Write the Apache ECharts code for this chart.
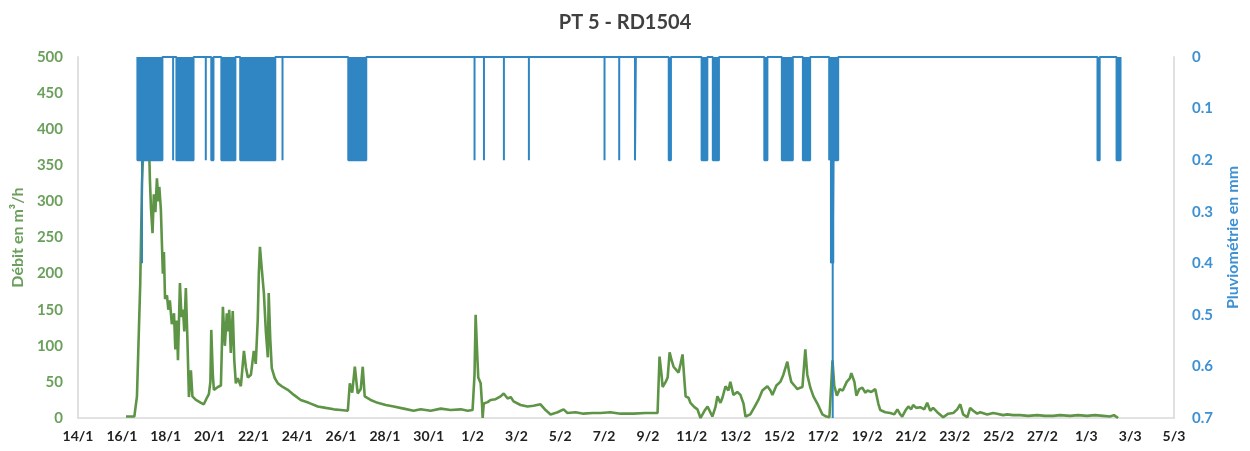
<!DOCTYPE html>
<html>
<head>
<meta charset="utf-8">
<script src="https://cdn.jsdelivr.net/npm/echarts@6/dist/echarts.min.js"></script>
<style>html,body{margin:0;padding:0;background:#fff;}#c{width:1250px;height:451px;}</style>
</head>
<body>
<div id="c"></div>
<script>
// X axis: days since 14/1 (2015)
const tickLabels = ['14/1','16/1','18/1','20/1','22/1','24/1','26/1','28/1','30/1','1/2','3/2','5/2','7/2','9/2','11/2','13/2','15/2','17/2','19/2','21/2','23/2','25/2','27/2','1/3','3/3','5/3'];

// Débit (m3/h): day offset and value
const flowDay = [2.19,2.57,2.66,2.69,2.76,2.84,2.92,3.01,3.14,3.24,3.28,3.33,3.40,3.46,3.53,3.60,3.67,3.71,3.78,3.83,3.87,3.92,3.97,4.06,4.12,4.19,4.28,4.38,4.44,4.51,4.56,4.65,4.72,4.79,4.85,4.92,4.99,5.06,5.15,5.22,5.38,5.61,5.74,5.88,5.97,6.04,6.08,6.15,6.20,6.38,6.52,6.61,6.70,6.79,6.86,6.90,6.97,7.06,7.13,7.20,7.29,7.43,7.57,7.66,7.75,7.89,8.02,8.11,8.20,8.25,8.30,8.36,8.48,8.57,8.66,8.70,8.77,8.84,8.98,9.12,9.34,9.57,9.85,10.16,10.53,10.94,11.30,11.67,11.99,12.31,12.40,12.51,12.63,12.72,12.76,12.90,12.99,13.08,13.35,13.67,14.04,14.40,14.86,15.31,15.63,16.09,16.55,17.00,17.46,17.78,18.00,18.09,18.14,18.21,18.26,18.37,18.43,18.46,18.51,18.69,18.82,19.05,19.28,19.42,19.60,19.74,19.87,20.19,20.51,20.78,21.10,21.33,21.56,21.88,22.15,22.33,22.70,23.06,23.47,23.84,24.29,24.75,25.34,25.89,26.44,26.53,26.62,26.67,26.81,26.90,26.99,27.08,27.17,27.31,27.40,27.49,27.58,27.67,27.72,27.85,27.94,28.12,28.26,28.40,28.58,28.72,28.94,29.08,29.17,29.31,29.40,29.54,29.67,29.76,29.90,30.08,30.22,30.36,30.45,30.67,30.86,31.04,31.22,31.45,31.59,31.68,31.86,32.04,32.18,32.36,32.45,32.54,32.68,32.82,32.95,33.05,33.18,33.27,33.41,33.55,33.73,33.96,34.14,34.28,34.37,34.42,34.50,34.62,34.75,34.89,35.07,35.21,35.28,35.42,35.51,35.64,35.78,35.92,36.01,36.19,36.37,36.51,36.60,36.83,37.06,37.24,37.38,37.51,37.60,37.74,37.88,38.01,38.10,38.24,38.42,38.61,38.74,38.88,39.01,39.20,39.47,39.70,39.93,40.11,40.25,40.38,40.57,40.70,40.84,41.02,41.16,41.48,41.75,41.93,42.21,42.39,42.66,42.98,43.35,43.76,44.12,44.49,44.80,45.26,45.62,46.03,46.40,46.76,47.08,47.26,47.45];
const flowValue = [2,2,3,30,30,187,325,400,420,380,330,290,256,310,285,332,300,320,289,240,200,230,165,170,150,163,130,145,95,135,80,187,140,150,120,180,110,29,66,30,25,21,19,28,33,50,122,60,39,43,45,154,100,145,120,150,90,148,80,48,55,44,93,70,56,60,93,75,136,200,237,215,173,120,84,173,110,69,55,48,43,39,32,25,21,16,14,12,11,10,48,35,71,45,34,40,71,30,25,21,18,16,13,10,12,10,13,11,12,10,11,60,143,90,56,48,20,0,20,22,25,26,30,34,27,29,23,18,16,17,19,11,5,8,12,7,8,6,7,7,8,6,6,7,7,85,60,43,50,56,91,80,71,66,63,75,88,50,30,28,21,15,12,0,10,16,2,15,30,21,28,44,38,50,32,36,32,20,2,5,15,25,38,44,38,32,45,50,60,78,62,50,45,40,42,43,95,60,42,30,20,5,2,1,50,80,45,31,40,38,50,55,62,50,31,40,42,35,38,36,40,20,11,8,7,5,12,5,2,10,16,12,18,14,15,12,21,10,14,8,1,6,7,12,19,5,1,14,10,6,8,5,7,6,4,5,4,4,3,4,3,3,4,3,4,3,4,3,2,4,0];

// Pluviométrie (mm): rain periods (start day, end day, depth)
const rainStart = [2.71,2.92,2.92,4.34,4.49,5.83,6.08,6.54,7.40,9.33,12.33,18.09,18.52,19.43,20.57,24.02,24.69,25.41,26.95,28.45,28.96,31.31,32.11,33.07,34.27,34.35,34.43,34.43,34.50,46.51,47.38];
const rainEnd   = [2.92,2.92,3.85,4.34,5.27,5.83,6.18,7.18,9.00,9.33,13.15,18.09,18.52,19.43,20.57,24.02,24.69,25.45,27.05,28.71,29.24,31.45,32.61,33.40,34.35,34.43,34.43,34.50,34.68,46.61,47.56];
const rainDepth = [0.2,0.4,0.2,0.2,0.2,0.2,0.2,0.2,0.2,0.2,0.2,0.2,0.2,0.2,0.2,0.2,0.2,0.2,0.2,0.2,0.2,0.2,0.2,0.2,0.2,0.4,0.7,0.4,0.2,0.2,0.2];

const flowData = flowDay.map((d, i) => [d, flowValue[i]]);
const rainLine = [];
const rainBlocks = [];
rainStart.forEach((s, i) => {
  const e = rainEnd[i], v = rainDepth[i];
  rainLine.push([s, 0], [s, v], [e, v], [e, 0]);
  rainBlocks.push([s, e, v]);
});

const FONT = 'Lato, "Open Sans", sans-serif';
const GREEN = '#5e9446';
const GREEN_LBL = '#6b9f5c';
const BLUE = '#2f86c3';
const BLUE_LBL = '#3d90d2';

const chart = echarts.init(document.getElementById('c'), null, {renderer: 'canvas'});
chart.setOption({
  animation: false,
  backgroundColor: '#ffffff',
  title: {
    text: 'PT 5 - RD1504',
    left: 'center',
    top: 8,
    textStyle: {fontFamily: FONT, fontSize: 20, fontWeight: 'bold', color: '#404040'}
  },
  grid: {left: 78, right: 76, top: 57, bottom: 33, containLabel: false, outerBoundsMode: 'none'},
  xAxis: {
    type: 'value',
    min: 0, max: 50, interval: 2,
    axisLine: {show: true, lineStyle: {color: '#d9d9d9', width: 1.5}},
    axisTick: {show: false},
    splitLine: {show: false},
    axisLabel: {
      margin: 11,
      fontFamily: FONT, fontSize: 14, fontWeight: 'bold', color: '#222222',
      formatter: v => tickLabels[Math.round(v / 2)] || ''
    }
  },
  yAxis: [
    {
      type: 'value', min: 0, max: 500, interval: 50,
      name: 'Débit en m³/h', nameLocation: 'middle', nameGap: 52, nameRotate: 90,
      nameTextStyle: {fontFamily: FONT, fontSize: 16, fontWeight: 'bold', color: GREEN_LBL},
      axisLine: {show: true, lineStyle: {color: '#e0e0e0', width: 2}},
      axisTick: {show: false},
      splitLine: {show: false},
      axisLabel: {margin: 15, fontFamily: FONT, fontSize: 15, fontWeight: 'bold', color: GREEN_LBL}
    },
    {
      type: 'value', min: 0, max: 0.7, interval: 0.1, inverse: true,
      name: 'Pluviométrie en mm', nameLocation: 'middle', nameGap: 51, nameRotate: 90,
      nameTextStyle: {fontFamily: FONT, fontSize: 16, fontWeight: 'bold', color: BLUE_LBL},
      axisLine: {show: true, lineStyle: {color: '#e0e0e0', width: 2}},
      axisTick: {show: false},
      splitLine: {show: false},
      axisLabel: {margin: 18, fontFamily: FONT, fontSize: 15, fontWeight: 'bold', color: BLUE_LBL,
        formatter: v => String(Math.round(v * 10) / 10)}
    }
  ],
  series: [
    {
      name: 'Débit', type: 'line', yAxisIndex: 0, data: flowData,
      showSymbol: false, symbol: 'none',
      lineStyle: {color: GREEN, width: 2.6},
      z: 2
    },
    {
      name: 'Pluviométrie blocs', type: 'custom', yAxisIndex: 1, data: rainBlocks,
      encode: {x: [0, 1], y: 2},
      renderItem: function (params, api) {
        const p0 = api.coord([api.value(0), 0]);
        const p1 = api.coord([api.value(1), api.value(2)]);
        return {
          type: 'rect',
          shape: {x: p0[0], y: p0[1], width: Math.max(p1[0] - p0[0], 0), height: p1[1] - p0[1]},
          style: {fill: BLUE}
        };
      },
      z: 3
    },
    {
      name: 'Pluviométrie', type: 'line', yAxisIndex: 1, data: rainLine,
      showSymbol: false, symbol: 'none',
      lineStyle: {color: BLUE, width: 2},
      z: 4
    }
  ]
});
</script>
</body>
</html>
